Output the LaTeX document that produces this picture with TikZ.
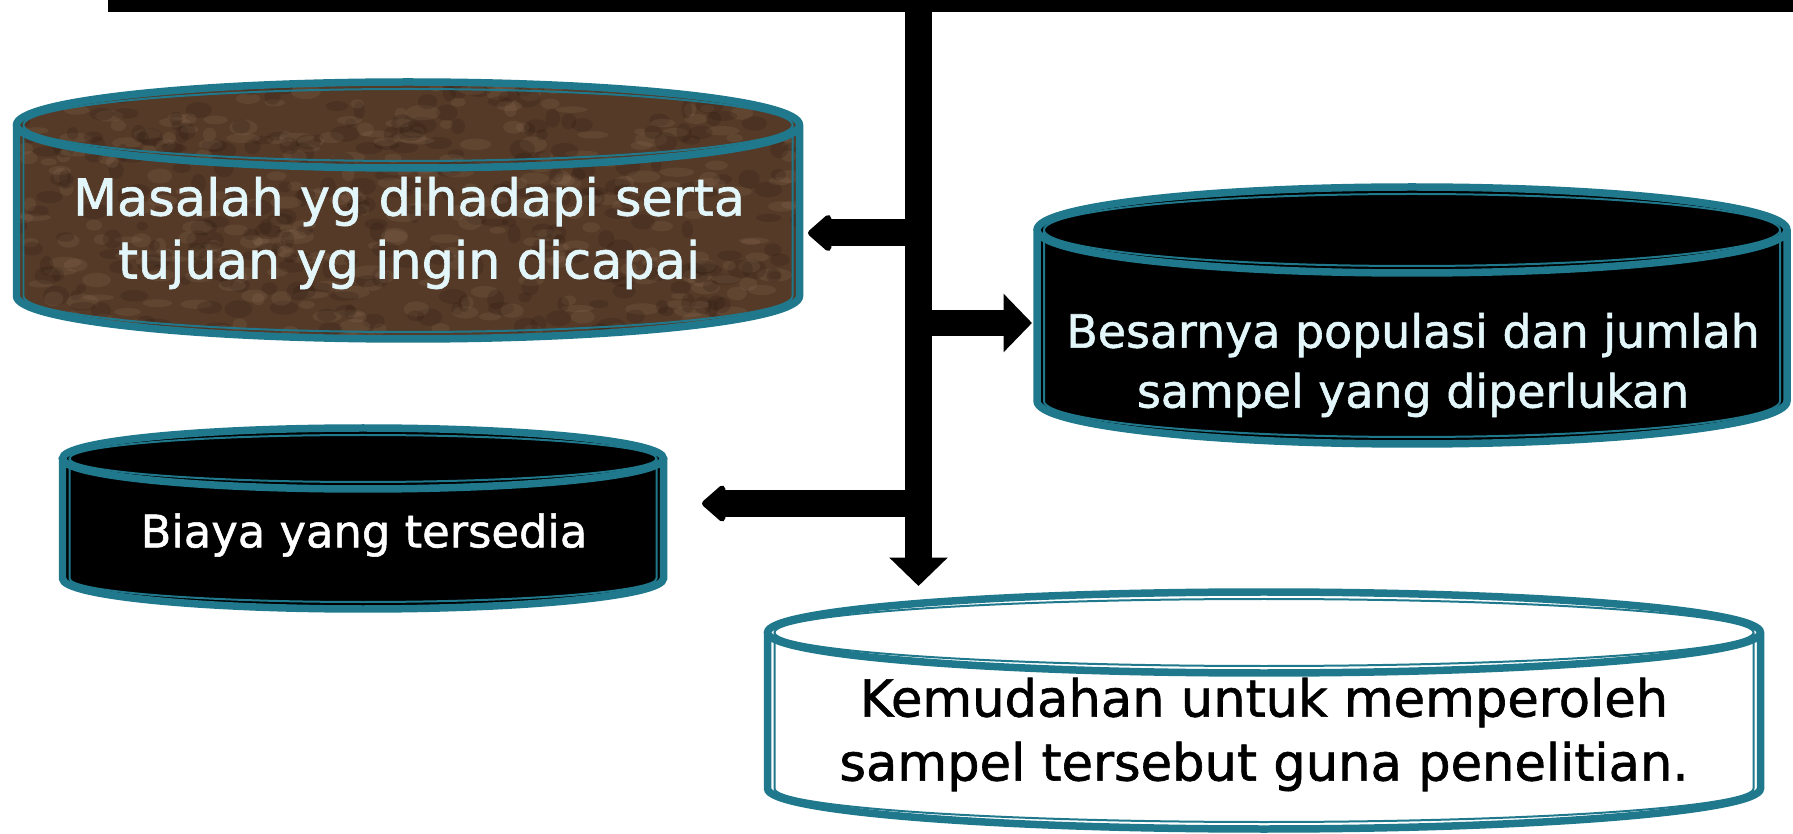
\documentclass[tikz,border=0pt]{standalone}
\usepackage{fontspec}
\setmainfont{DejaVu Sans}[BoldFont={DejaVu Sans}, BoldFeatures={FakeBold=1.2}]
\usetikzlibrary{arrows.meta}
\definecolor{drum-teal}{HTML}{1F788C}
\definecolor{drum-brown}{HTML}{553A28}
\definecolor{drum-vein}{HTML}{A88A6C}
\definecolor{drum-dark}{HTML}{2A1A10}
\definecolor{drum-ink}{HTML}{E3F7FB}

\begin{document}
\begin{tikzpicture}[x=0.02cm, y=-0.02cm,
    every node/.style={align=center, inner sep=0pt},
    flow/.style={line width=0.54cm, draw=black},
    sharphead/.style={-{Triangle[width=1.14cm, length=0.57cm]}},
    roundhead/.style={-{Triangle[width=0.84cm, length=0.5cm, round]}}]
  \useasboundingbox (0,0) rectangle (1793,834);
  \def\drums{408/125/296/391.5/43/drum-brown, 1412/230/401/375/43/black,
    363/458.5/578.5/300.5/30.5/black, 1264/632.5/788.5/496.5/40.5/white}
  \foreach \cx/\ct/\cb/\rx/\ry/\fc in \drums {
    \fill[\fc] (\cx-\rx,\ct) arc[start angle=180, end angle=360, x radius=\rx, y radius=\ry]
      -- (\cx+\rx,\cb) arc[start angle=0, end angle=180, x radius=\rx, y radius=\ry] -- cycle;
  }
  \begin{scope}
    \clip (16.5,125) arc[start angle=180, end angle=360, x radius=391.5, y radius=43]
      -- (799.5,296) arc[start angle=0, end angle=180, x radius=391.5, y radius=43] -- cycle;
    \pgfmathsetseed{11}
    \foreach \k in {1,...,320} {
      \pgfmathsetmacro{\px}{16+785*rnd}
      \pgfmathsetmacro{\py}{80+265*rnd}
      \fill[drum-vein, opacity=0.14] (\px,\py) ellipse[x radius=6+12*rnd, y radius=3+5*rnd];
      \fill[drum-dark, opacity=0.22] (\px+25*rand,\py+15*rand) ellipse[x radius=5+10*rnd, y radius=4+6*rnd];
    }
  \end{scope}
  \foreach \cx/\ct/\cb/\rx/\ry/\fc in \drums {
    \pgfmathsetmacro{\rxi}{\rx-7}
    \pgfmathsetmacro{\ryi}{\ry-7}
    \draw[drum-teal, line width=0.15cm] (\cx-\rx,\ct)
      arc[start angle=180, end angle=360, x radius=\rx, y radius=\ry]
      -- (\cx+\rx,\cb) arc[start angle=0, end angle=180, x radius=\rx, y radius=\ry] -- cycle
      (\cx,\ct) ellipse[x radius=\rx, y radius=\ry];
    \draw[drum-teal, line width=0.04cm] (\cx-\rxi,\ct)
      arc[start angle=180, end angle=360, x radius=\rxi, y radius=\ryi]
      -- (\cx+\rxi,\cb) arc[start angle=0, end angle=180, x radius=\rxi, y radius=\ryi] -- cycle
      (\cx,\ct) ellipse[x radius=\rxi, y radius=\ryi];
  }
  \node[text=drum-ink, font=\bfseries\fontsize{29}{35.8}\selectfont] (masalah) at (409,233)
    {Masalah yg dihadapi serta\\tujuan yg ingin dicapai};
  \node[text=drum-ink, font=\bfseries\fontsize{26.1}{34.1}\selectfont] (besar) at (1413,365)
    {Besarnya populasi dan jumlah\\sampel yang diperlukan};
  \node[text=white, font=\bfseries\fontsize{25.5}{34}\selectfont] (biaya) at (364,535)
    {Biaya yang tersedia};
  \node[text=black, font=\bfseries\fontsize{29.1}{36.4}\selectfont] (mudah) at (1264,734.5)
    {Kemudahan untuk memperoleh\\sampel tersebut guna penelitian.};
  \coordinate (barL) at (108,6);
  \coordinate (barR) at (1793,6);
  \coordinate (hub) at (918.5,6);
  \coordinate (tipM) at (808,233);
  \coordinate (tipB) at (1032,323);
  \coordinate (tipBi) at (702,503.5);
  \coordinate (tipK) at (918.5,586);
  \draw[line width=0.24cm] (barL) -- (barR);
  \draw[flow, sharphead] (hub) -- (tipK);
  \draw[flow, roundhead] (hub |- tipM) -- (tipM);
  \draw[flow, sharphead] (hub |- tipB) -- (tipB);
  \draw[flow, roundhead] (hub |- tipBi) -- (tipBi);
\end{tikzpicture}
\end{document}
